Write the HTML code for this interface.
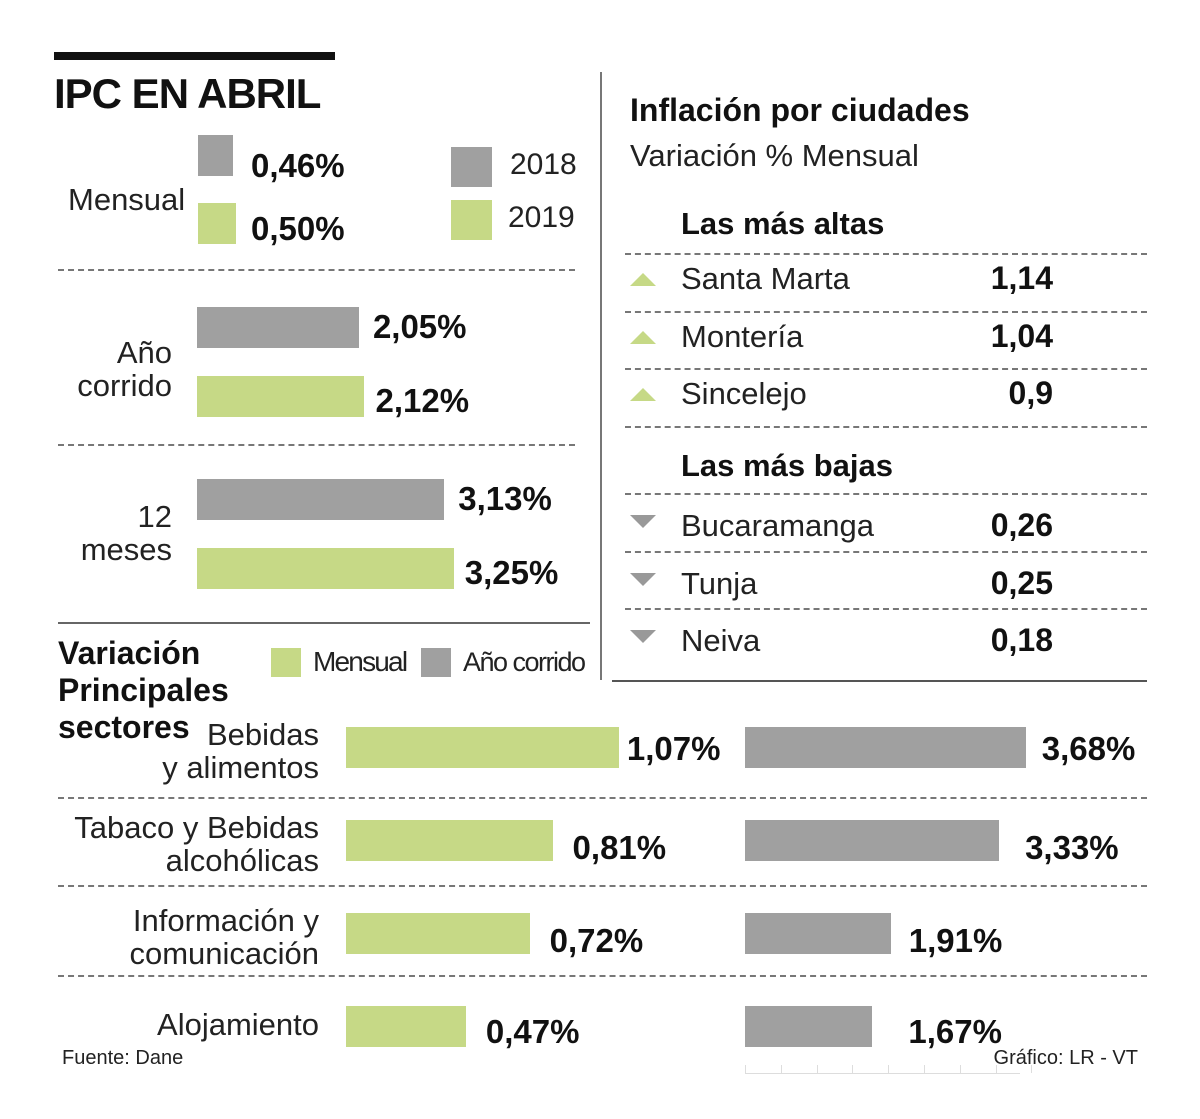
<!DOCTYPE html>
<html><head><meta charset="utf-8">
<style>
body{margin:0;background:#fff;}
#c{position:relative;width:1200px;height:1119px;overflow:hidden;background:#fff;font-family:"Liberation Sans",sans-serif;color:#1a1a1a;}
.t{position:absolute;white-space:nowrap;line-height:1;}
.b{font-weight:bold;color:#111;}
.l{font-weight:normal;color:#222;}
.dash{position:absolute;height:0;border-top:2px dashed #777;}
.sol{position:absolute;background:#555;}
.bar{position:absolute;}
.g{background:#a0a0a0;}
.v{background:#c6d986;}
.r{text-align:right;}
</style></head><body>
<div id="c">
<div class="sol" style="left:54px;top:52px;width:281px;height:8px;background:#111"></div>
<div class="t b" style="left:54px;top:73px;font-size:42px;letter-spacing:-1px">IPC EN ABRIL</div>
<div class="sol" style="left:600px;top:72px;width:2px;height:608px;background:#777"></div>

<div class="t l" style="left:68px;top:184px;font-size:31px">Mensual</div>
<div class="bar g" style="left:198px;top:135px;width:35px;height:41px"></div>
<div class="bar v" style="left:198px;top:203px;width:38px;height:41px"></div>
<div class="t b" style="left:251px;top:149px;font-size:33px">0,46%</div>
<div class="t b" style="left:251px;top:212px;font-size:33px">0,50%</div>
<div class="bar g" style="left:451px;top:147px;width:41px;height:40px"></div>
<div class="bar v" style="left:451px;top:200px;width:41px;height:40px"></div>
<div class="t l" style="left:510px;top:150px;font-size:30px">2018</div>
<div class="t l" style="left:508px;top:203px;font-size:30px">2019</div>
<div class="dash" style="left:58px;top:269px;width:517px"></div>
<div class="t l r" style="left:40px;width:132px;top:336px;font-size:31px;line-height:33px;white-space:normal">Año<br>corrido</div>
<div class="dash" style="left:58px;top:444px;width:517px"></div>
<div class="t l r" style="left:40px;width:132px;top:500px;font-size:31px;line-height:33px;white-space:normal">12<br>meses</div>
<div class="sol" style="left:58px;top:622px;width:532px;height:2px;background:#666"></div>

<div class="t b" style="left:630px;top:94px;font-size:32px">Inflación por ciudades</div>
<div class="t l" style="left:630px;top:140px;font-size:31px">Variación % Mensual</div>
<div class="t b" style="left:681px;top:208px;font-size:31px">Las más altas</div>
<div class="t b" style="left:681px;top:450px;font-size:31px">Las más bajas</div>
<div class="sol" style="left:612px;top:680px;width:535px;height:2px;background:#555"></div>

<div class="t b" style="left:58px;top:635px;font-size:32px;line-height:37px">Variación<br>Principales<br>sectores</div>
<div class="bar v" style="left:271px;top:648px;width:30px;height:29px"></div>
<div class="t l" style="left:313px;top:648px;font-size:28px;letter-spacing:-1.8px">Mensual</div>
<div class="bar g" style="left:421px;top:648px;width:30px;height:29px"></div>
<div class="t l" style="left:463px;top:649px;font-size:27px;letter-spacing:-1.5px">Año corrido</div>

<div class="t l" style="left:62px;top:1048px;font-size:20px">Fuente: Dane</div>
<div class="t l r" style="left:900px;width:238px;top:1048px;font-size:20px">Gráfico: LR - VT</div>
</div>
<script>
const yearCats=["Año corrido","12 meses"];
const y2018=[2.05,3.13];
const y2019=[2.12,3.25];
const highCities=["Santa Marta","Montería","Sincelejo"];
const highVals=["1,14","1,04","0,9"];
const lowCities=["Bucaramanga","Tunja","Neiva"];
const lowVals=["0,26","0,25","0,18"];
const sectors=["Bebidas<br>y  alimentos","Tabaco y Bebidas<br>alcohólicas","Información y<br>comunicación","Alojamiento"];
const sectMensual=[1.07,0.81,0.72,0.47];
const sectCorrido=[3.68,3.33,1.91,1.67];

const c=document.getElementById('c');
function fmt(v){return v.toFixed(2).replace('.',',')+'%';}
function add(cls,st,html){const d=document.createElement('div');d.className=cls;d.setAttribute('style',st);if(html!==undefined)d.innerHTML=html;c.appendChild(d);return d;}
const xYear=v=>v*79;
const yearTops=[307,479];
yearCats.forEach((k,i)=>{
  const t=yearTops[i];
  const w1=xYear(y2018[i]),w2=xYear(y2019[i]);
  let e=add('bar g',`left:197px;top:${t}px;width:${w1}px;height:41px`);
  
  
  e=add('bar v',`left:197px;top:${t+69}px;width:${w2}px;height:41px`);
  
  
  e=add('t b',`left:${197+w1+14}px;top:${t+3}px;font-size:33px`,fmt(y2018[i]));
  
  
  e=add('t b',`left:${197+w2+11}px;top:${t+77}px;font-size:33px`,fmt(y2019[i]));
  
  
});
function cityRows(names,vals,top,up,lastDash,tOff){
  names.forEach((n,i)=>{
    const y=top+i*57.5;
    let e=add('dash',`left:625px;top:${y-26}px;width:522px`);
    
    
    const tri=up?`border-left:13px solid transparent;border-right:13px solid transparent;border-bottom:13px solid #c6d986`:`border-left:13px solid transparent;border-right:13px solid transparent;border-top:13px solid #999`;
    e=add('bar',`left:630px;top:${up?y-6:y-4}px;width:0;height:0;${tri}`);
    
    
    e=add('t l',`left:681px;top:${y-16+tOff}px;font-size:31px`,n);
    
    
    e=add('t b r',`left:900px;width:153px;top:${y-17+tOff}px;font-size:32px`,vals[i]);
    
    
  });
  if(lastDash){
    const e=add('dash',`left:625px;top:${top+3*57.5-26}px;width:522px`);
    
    
  }
}
cityRows(highCities,highVals,279,true,true,0);
cityRows(lowCities,lowVals,519,false,false,7);
const xM=v=>v*255, xC=v=>v*76.3;
const sTops=[727,820,913,1006];
sectors.forEach((s,i)=>{
  const t=sTops[i];
  const two=s.indexOf('<br>')>=0;
  let e=add('t l r',`left:20px;width:299px;top:${two?t-9:t+2}px;font-size:31px;line-height:33px`,s);
  
  
  const w1=xM(sectMensual[i]),w2=xC(sectCorrido[i]);
  e=add('bar v',`left:346px;top:${t}px;width:${w1}px;height:41px`);
  
  
  e=add('bar g',`left:745px;top:${t}px;width:${w2}px;height:41px`);
  
  
  const dy=i==0?5:i==3?9:11;
  e=add('t b',`left:${346+w1+(i==0?8:20)}px;top:${t+dy}px;font-size:33px`,fmt(sectMensual[i]));
  
  
  e=add('t b',`left:${745+w2+(i==0?16:i==1?26:i==2?18:36)}px;top:${t+dy}px;font-size:33px`,fmt(sectCorrido[i]));
  
  
  if(i<3){
    e=add('dash',`left:58px;top:${[797,885,975][i]}px;width:1089px`);
    
    
  }
});
let ax=add('sol',`left:745px;top:1073px;width:275px;height:1px;background:#ddd`);


for(let k=0;k<9;k++){
  const e=add('sol',`left:${745+k*35.8}px;top:1065px;width:1px;height:8px;background:#ddd`);
  
  
}
</script>
</body></html>
